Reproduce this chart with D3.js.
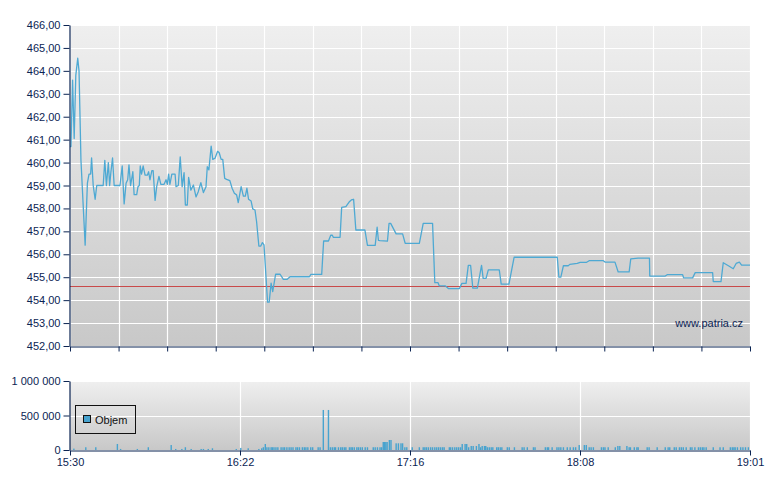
<!DOCTYPE html>
<html><head><meta charset="utf-8">
<script src="https://cdn.jsdelivr.net/npm/d3@7"></script>
<style>
body{margin:0;background:#fff}
svg{display:block}
text{font-family:"Liberation Sans",Arial,sans-serif;font-size:11px}
</style>
</head><body><svg id="c" width="780" height="490"></svg>
<script>
// minutes since 15:30, price
const priceSeries = [
[0,460.7],[0.3,460.7],[0.8,463.6],[1.3,461.05],[1.8,463.8],[2.4,464.55],[2.8,464.0],[3.4,460.1],[4.7,456.4],[5.4,459.1],
[5.9,459.5],[6.4,459.5],[6.7,460.2],[7.2,459.0],[7.8,458.4],[8.3,459.0],[10.3,459.0],[10.8,460.1],[11.3,459.0],[11.9,460.0],
[12.3,459.0],[12.7,459.6],[13.2,460.2],[13.7,459.0],[15.5,459.0],[16.2,459.85],[16.8,458.2],[17.4,459.1],[17.9,459.25],[18.3,459.9],
[18.8,459.0],[19.5,459.6],[19.9,458.6],[20.7,458.6],[21.1,458.95],[21.5,459.0],[21.8,459.85],[22.2,459.5],[22.7,459.85],[23.3,459.45],
[24.0,459.45],[24.4,459.6],[24.8,459.25],[25.4,459.65],[25.8,459.65],[26.4,458.35],[26.9,458.95],[27.6,459.4],[28.2,459.05],[29.2,459.05],
[29.8,459.25],[30.2,459.05],[30.6,459.5],[31.0,459.05],[31.6,459.5],[32.6,459.5],[32.9,458.95],[33.6,459.0],[34.2,460.25],[34.8,458.95],
[35.4,459.56],[35.8,458.15],[36.4,458.15],[36.8,459.35],[37.5,458.8],[38.3,459.02],[39.1,458.5],[39.8,458.73],[40.6,459.12],[41.4,458.69],
[42.2,458.95],[42.6,459.82],[43.1,459.68],[43.8,460.72],[44.3,460.14],[45.0,460.19],[45.8,460.49],[46.3,460.43],[46.9,460.14],[47.4,460.14],
[48.0,459.31],[48.6,459.27],[49.6,459.21],[50.3,458.88],[51.0,458.66],[51.7,458.59],[52.2,458.25],[53.1,458.95],[53.8,458.54],[54.4,458.54],
[54.9,458.88],[55.4,458.4],[56.2,458.32],[56.7,457.98],[57.4,457.93],[57.9,457.42],[58.6,456.36],[59.2,456.36],[59.7,456.51],[60.2,456.41],
[61.3,453.91],[61.8,453.91],[62.4,454.74],[62.9,454.37],[63.8,455.13],[65.2,455.13],[66.2,454.91],[67.4,454.91],[68.3,455.02],[74.3,455.02],
[74.7,455.12],[78.1,455.12],[78.7,456.58],[80.2,456.58],[80.9,456.83],[81.4,456.83],[81.7,456.74],[83.8,456.74],[84.3,458.05],[85.6,458.08],
[86.6,458.28],[87.3,458.37],[88.0,458.4],[88.7,457.06],[91.5,457.06],[92.3,456.39],[94.7,456.39],[95.3,457.18],[95.7,456.61],[96.2,456.6],
[98.5,456.57],[99.0,457.35],[99.5,457.35],[101.2,456.89],[103.2,456.89],[104.0,456.48],[108.4,456.48],[109.6,457.35],[112.5,457.35],[113.2,454.76],
[114.2,454.76],[114.6,454.62],[116.5,454.62],[117.5,454.5],[120.8,454.5],[121.6,454.73],[122.9,454.73],[123.6,455.52],[124.3,455.52],[125.0,454.52],
[126.4,454.52],[127.7,455.52],[128.2,454.95],[129.1,454.95],[129.8,455.32],[133.2,455.32],[133.8,454.7],[136.2,454.7],[137.8,455.87],[151.2,455.87],
[151.7,455.0],[152.3,455.0],[153.1,455.5],[154.6,455.5],[155.1,455.56],[157.4,455.6],[158.3,455.65],[160.3,455.65],[161.1,455.72],[165.5,455.72],
[166.0,455.66],[169.1,455.66],[170.1,455.23],[173.5,455.23],[174.0,455.8],[176.3,455.83],[179.8,455.83],[179.9,455.05],[184.7,455.05],[185.3,455.11],
[190.1,455.11],[190.4,454.97],[193.2,454.97],[194.0,455.2],[199.4,455.2],[199.6,454.81],[202.0,454.81],[202.7,455.63],[204.3,455.5],[205.8,455.37],
[206.7,455.6],[207.7,455.66],[208.4,455.53],[211.0,455.53]
];

// minutes since 15:30, traded volume
const volumeSeries = [
[1.2,20000],[4.9,40000],[8.0,40000],[14.7,87000],[15.7,15000],[20.9,15000],[24.3,40000],[31.4,72000],[32.8,15000],[34.7,15000],
[35.8,40000],[37.6,15000],[40.7,15000],[41.4,15000],[42.9,15000],[44.2,25000],[51.6,15000],[53.0,30000],[55.3,25000],[58.6,15000],
[59.5,25000],[60.0,40000],[60.6,87000],[61.1,40000],[61.7,40000],[62.4,40000],[62.8,40000],[63.3,40000],[63.9,40000],[64.5,40000],
[65.5,40000],[66.1,40000],[66.6,40000],[67.3,40000],[68.0,40000],[68.6,40000],[69.2,40000],[70.1,40000],[70.6,40000],[71.2,40000],
[72.1,40000],[72.7,40000],[73.2,40000],[73.8,40000],[74.7,40000],[75.3,40000],[77.0,40000],[77.6,40000],[78.6,580000],[80.2,580000],
[80.8,40000],[81.4,40000],[82.0,40000],[82.4,40000],[83.3,40000],[84.0,40000],[84.5,40000],[85.1,40000],[85.6,40000],[86.7,40000],
[87.2,40000],[87.6,40000],[88.2,40000],[89.0,40000],[89.5,40000],[90.1,40000],[90.7,40000],[91.6,40000],[92.3,40000],[94.1,40000],
[94.7,40000],[95.4,40000],[96.2,40000],[96.7,40000],[97.2,116000],[97.6,116000],[98.0,116000],[98.4,116000],[99.1,145000],[99.6,145000],
[101.2,97000],[101.9,97000],[102.7,97000],[103.2,97000],[103.9,40000],[104.5,40000],[106.2,40000],[108.4,40000],[109.6,40000],[110.1,40000],
[110.6,40000],[111.2,40000],[111.9,40000],[112.5,40000],[113.2,40000],[113.8,40000],[114.4,40000],[115.0,40000],[115.6,40000],[116.1,40000],
[117.7,40000],[118.1,40000],[118.7,40000],[119.4,40000],[120.0,40000],[120.6,40000],[121.2,40000],[121.7,87000],[122.6,87000],[123.1,87000],
[123.7,40000],[124.5,58000],[125.1,58000],[126.1,58000],[126.9,87000],[127.4,40000],[127.9,58000],[128.6,58000],[129.0,58000],[129.5,40000],
[130.1,40000],[130.7,40000],[131.2,40000],[132.4,40000],[132.9,40000],[133.5,40000],[134.0,40000],[135.7,40000],[136.3,40000],[137.9,40000],
[140.3,40000],[140.9,40000],[141.9,40000],[143.8,40000],[144.3,40000],[147.5,40000],[148.1,40000],[148.5,40000],[149.6,40000],[151.1,40000],
[151.7,40000],[152.3,40000],[153.1,40000],[154.3,40000],[155.2,40000],[156.2,40000],[156.9,40000],[158.0,72000],[159.6,72000],[160.2,72000],
[161.1,40000],[161.7,40000],[162.4,40000],[164.9,40000],[165.5,40000],[166.0,40000],[167.0,40000],[169.2,40000],[170.0,58000],[170.6,58000],
[172.8,58000],[173.5,40000],[173.9,40000],[175.1,40000],[175.9,40000],[176.3,40000],[179.1,40000],[179.7,40000],[182.2,40000],[184.7,40000],
[185.6,40000],[186.1,40000],[187.5,40000],[188.1,40000],[189.1,40000],[189.7,40000],[190.3,40000],[191.2,40000],[192.5,40000],[193.0,40000],
[193.9,40000],[195.0,40000],[195.6,40000],[196.2,40000],[196.7,40000],[197.4,40000],[199.6,40000],[201.7,40000],[202.7,40000],[204.9,40000],
[205.5,40000],[206.0,40000],[206.4,40000],[207.1,40000],[208.1,40000],[208.8,40000],[209.6,40000],[210.5,40000]
];

const referencePrice = 454.62;
const priceTicks = d3.range(452, 467, 1);
const volumeTicks = [0, 500000, 1000000];
const timeLabels = ["15:30", "16:22", "17:16", "18:08", "19:01"];
const sessionMinutes = 211;
const mainGridCount = 14;
const legendLabel = "Objem";
const sourceLabel = "www.patria.cz";

const NAVY = "#0b2453";
const LINE = "#4ea9d3";
const BAR = "#47a3cf";

const svg = d3.select("#c");
const defs = svg.append("defs");
const grad = defs.append("linearGradient").attr("id", "bg").attr("x1", 0).attr("y1", 0).attr("x2", 0).attr("y2", 1);
grad.append("stop").attr("offset", "0%").attr("stop-color", "#efefef");
grad.append("stop").attr("offset", "100%").attr("stop-color", "#c8c8c8");

const L = 70, R = 750;
const x = d3.scaleLinear().domain([0, sessionMinutes]).range([L, R]);
const y = d3.scaleLinear().domain([452, 466]).range([346, 25]);
const yv = d3.scaleLinear().domain([0, 1000000]).range([450, 381]);

const fmtPrice = v => d3.format(".2f")(v).replace(".", ",");
const fmtVol = v => d3.format(",")(v).replace(/,/g, " ");
const px = v => Math.round(v) + 0.5;

// ---------- main panel ----------
const main = svg.append("g");
main.append("rect").attr("x", L).attr("y", y(466)).attr("width", R - L).attr("height", y(452) - y(466)).attr("fill", "url(#bg)");

const mainGridT = d3.range(mainGridCount + 1).map(i => i * sessionMinutes / mainGridCount);
main.append("g").selectAll("line").data(priceTicks).join("line")
  .attr("x1", L).attr("x2", R).attr("y1", d => px(y(d))).attr("y2", d => px(y(d)))
  .attr("stroke", "#fff").attr("stroke-width", 1.2);
main.append("g").selectAll("line").data(mainGridT).join("line")
  .attr("x1", d => px(x(d))).attr("x2", d => px(x(d))).attr("y1", y(466)).attr("y2", y(452))
  .attr("stroke", "#fff").attr("stroke-width", 1.2);

main.append("line").attr("x1", L).attr("x2", R)
  .attr("y1", px(y(referencePrice))).attr("y2", px(y(referencePrice)))
  .attr("stroke", "#c94a4a").attr("stroke-width", 1);

main.append("path").datum(priceSeries)
  .attr("d", d3.line().x(d => x(d[0])).y(d => y(d[1])))
  .attr("fill", "none").attr("stroke", LINE).attr("stroke-width", 1.3).attr("stroke-linejoin", "round");

main.append("text").attr("x", 743).attr("y", 327).attr("text-anchor", "end").attr("fill", NAVY).text(sourceLabel);

main.append("g").attr("transform", `translate(${px(L) - 1},0)`)
  .call(d3.axisLeft(y).tickValues(priceTicks).tickFormat(fmtPrice).tickSize(6).tickSizeOuter(0).tickPadding(3));
main.append("g").attr("transform", `translate(0,${px(y(452))})`)
  .call(d3.axisBottom(x).tickValues(mainGridT).tickFormat("").tickSize(5).tickSizeOuter(0));

// ---------- volume panel ----------
const vol = svg.append("g");
vol.append("rect").attr("x", L).attr("y", yv(1000000)).attr("width", R - L).attr("height", yv(0) - yv(1000000)).attr("fill", "url(#bg)");
const volGridT = timeLabels.map((_, i) => i * sessionMinutes / (timeLabels.length - 1));
vol.append("g").selectAll("line").data(volumeTicks.slice(1)).join("line")
  .attr("x1", L).attr("x2", R).attr("y1", d => px(yv(d))).attr("y2", d => px(yv(d)))
  .attr("stroke", "#fff").attr("stroke-width", 1.2);
vol.append("g").selectAll("line").data(volGridT.slice(1)).join("line")
  .attr("x1", d => px(x(d))).attr("x2", d => px(x(d))).attr("y1", yv(1000000)).attr("y2", yv(0))
  .attr("stroke", "#fff").attr("stroke-width", 1.2);

vol.append("g").selectAll("rect").data(volumeSeries).join("rect")
  .attr("x", d => x(d[0]) - 0.7).attr("width", 1.4)
  .attr("y", d => yv(d[1])).attr("height", d => yv(0) - yv(d[1]))
  .attr("fill", BAR);

const lg = vol.append("g");
lg.append("rect").attr("x", 75.5).attr("y", 405.5).attr("width", 60).attr("height", 28)
  .attr("fill", "none").attr("stroke", "#111").attr("stroke-width", 1);
lg.append("rect").attr("x", 83.5).attr("y", 415.5).attr("width", 7).attr("height", 7)
  .attr("fill", BAR).attr("stroke", "#111").attr("stroke-width", 1);
lg.append("text").attr("x", 95).attr("y", 424).attr("fill", "#111").text(legendLabel);

vol.append("g").attr("transform", `translate(${px(L) - 1},0)`)
  .call(d3.axisLeft(yv).tickValues(volumeTicks).tickFormat(fmtVol).tickSize(6).tickSizeOuter(0).tickPadding(3));
vol.append("g").attr("transform", `translate(0,${px(yv(0))})`)
  .call(d3.axisBottom(x).tickValues(volGridT).tickFormat((d, i) => timeLabels[i]).tickSize(5).tickSizeOuter(0).tickPadding(3));

svg.selectAll(".domain").attr("stroke", NAVY).attr("stroke-width", 1.2);
svg.selectAll(".tick line").attr("stroke", NAVY);
svg.selectAll(".tick text").attr("fill", NAVY).style("font-size", "11px").style("font-family", '"Liberation Sans",Arial,sans-serif');
</script>
</body></html>
